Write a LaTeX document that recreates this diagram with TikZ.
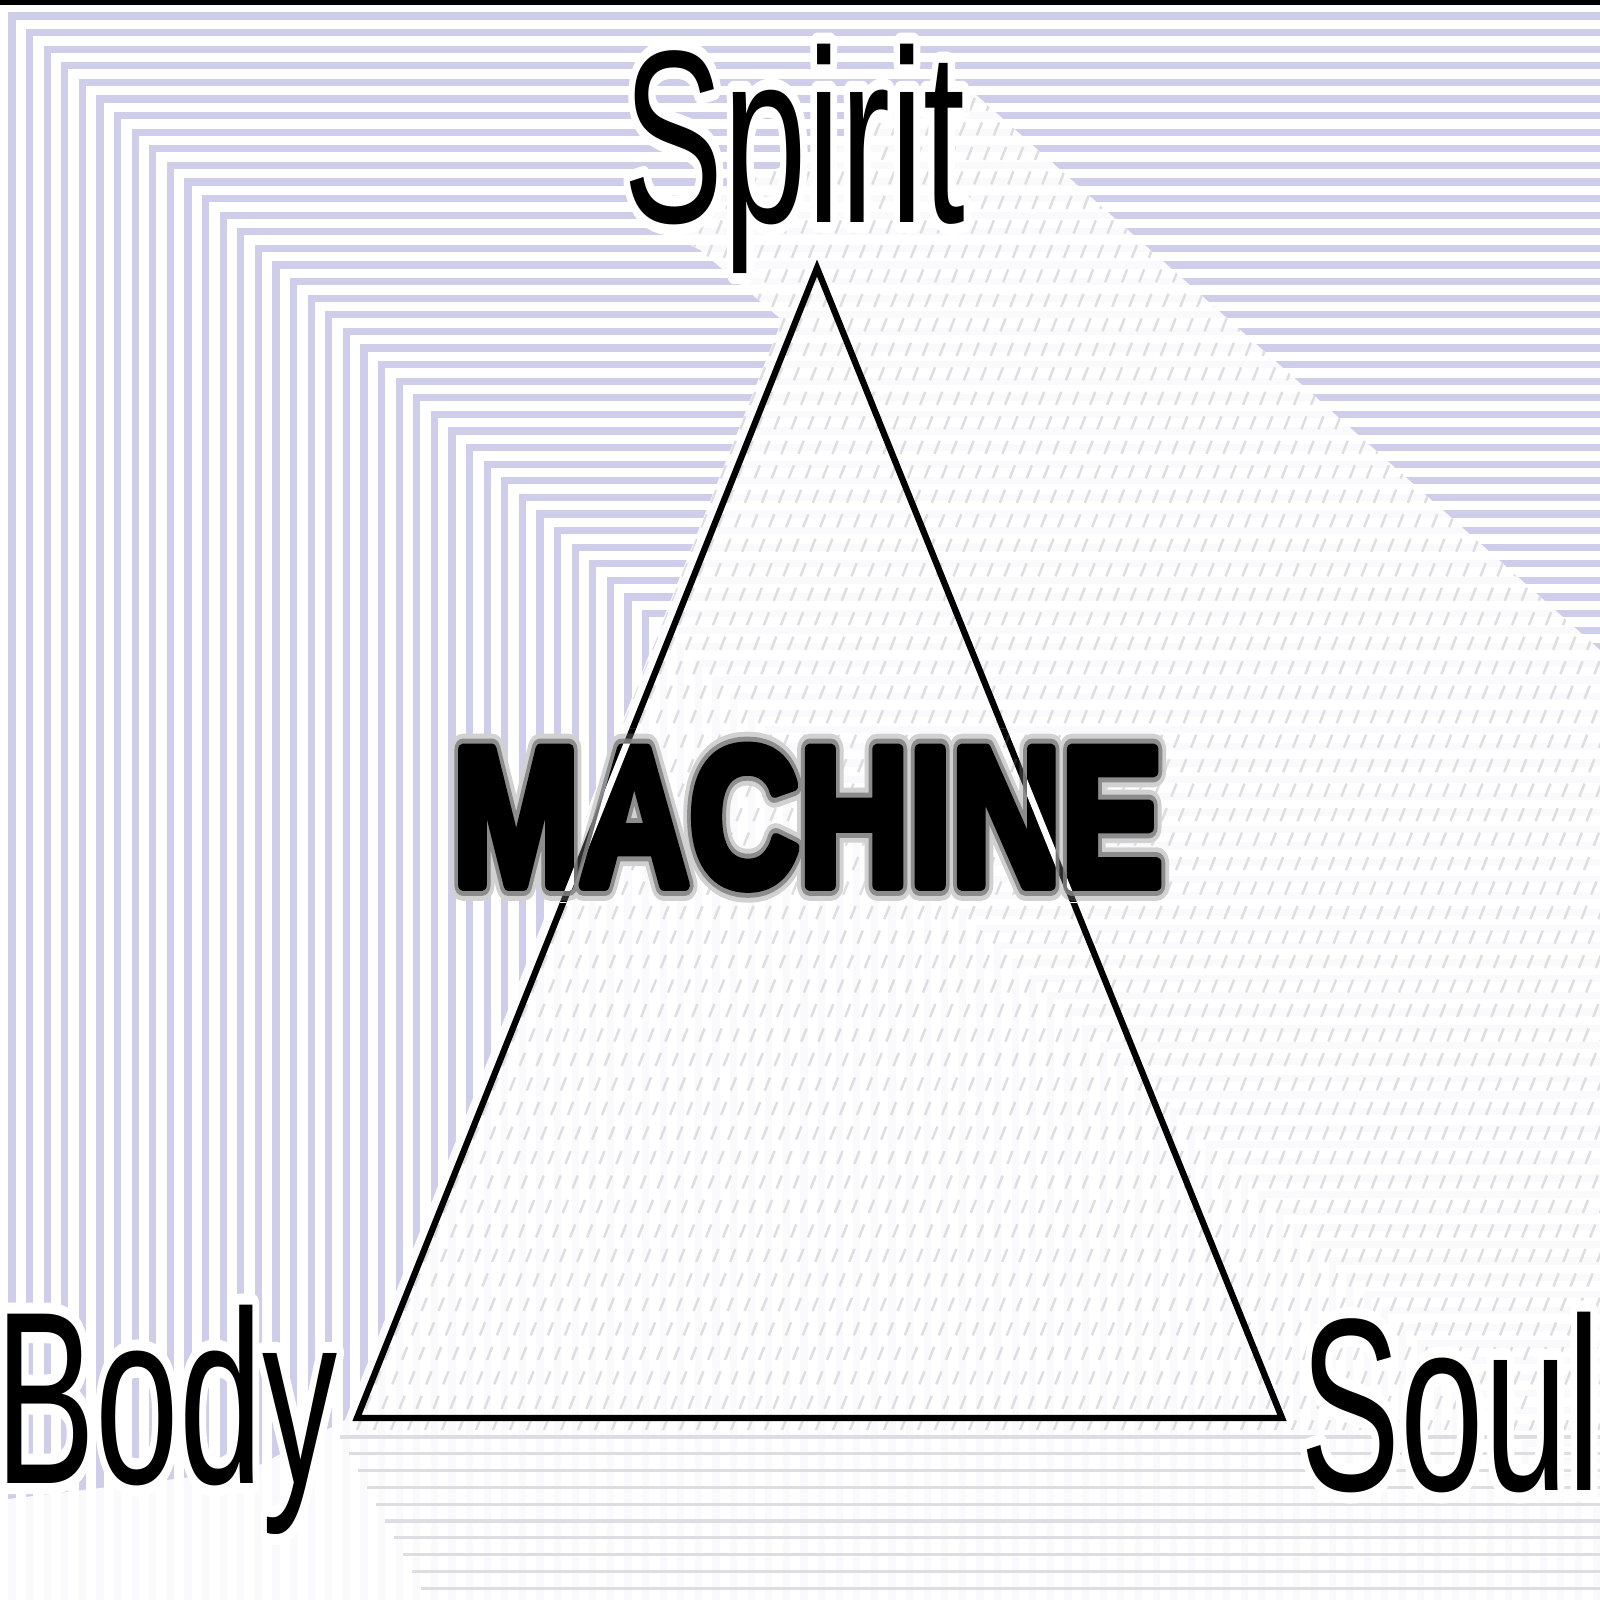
\documentclass[tikz,border=0pt]{standalone}
\usepackage{fontspec}
\setmainfont{Liberation Sans}
\newfontfamily\machcore{Liberation Sans}[BoldFeatures={FakeBold=6}]
\newfontfamily\machsoft{Liberation Sans}[BoldFeatures={FakeBold=11}]
\newfontfamily\machfuzz{Liberation Sans}[BoldFeatures={FakeBold=16}]
\newfontfamily\lblhalo{Liberation Sans}[FakeBold=9]
\begin{document}
\begin{tikzpicture}[x=0.01cm,y=-0.01cm,line join=round]
\definecolor{lav}{RGB}{206,206,234}
\definecolor{washgray}{RGB}{222,222,226}
\tikzset{
  lbl/.style={font=\fontsize{70}{80}\selectfont, inner sep=0pt, anchor=base west, xscale=0.61},
  lblh/.style={font=\lblhalo\fontsize{70}{80}\selectfont, inner sep=0pt, anchor=base west, xscale=0.61, white},
  mach/.style={inner sep=0pt, anchor=base west, xscale=0.773},
  edge/.style={line width=1.8pt}
}
\useasboundingbox (0,0) rectangle (1600,1600);
\fill[white] (0,0) rectangle (1600,1600);
% nested L-shaped stripes
\begin{scope}[line join=miter]
\clip (0,0) rectangle (1600,1600);
\foreach \k in {0,...,95} {
  \pgfmathsetmacro\cx{12+17.6*\k}
  \pgfmathsetmacro\cy{16+16.6*\k}
  \draw[lav, line width=2pt] (\cx,1650) -- (\cx,\cy) -- (1650,\cy);
}
\end{scope}
% top dark bar
\fill[black] (0,0) rectangle (1600,5);
% washed-out area
\path[fill=white, fill opacity=0.9] (650,225) -- (965,85) -- (1600,650) -- (1600,1600) -- (0,1600) -- (0,1500) -- (250,1470) -- (345,1420) -- (782,320) -- (700,250) -- cycle;
% faint texture inside the washed-out area
\begin{scope}
\clip (650,225) -- (965,85) -- (1600,650) -- (1600,1430) -- (345,1430) -- (782,320) -- (700,250) -- cycle;
\foreach \k in {0,...,150} {
  \pgfmathsetmacro\sx{300+17*\k}
  \draw[washgray, line width=0.7pt, dash pattern=on 4pt off 3.5pt] (\sx,0) -- ++(-680,1700);
}
\end{scope}
% faint horizontal lines below the base
\begin{scope}
\clip (0,1430) rectangle (1600,1600);
\foreach \j in {0,...,10} {
  \pgfmathsetmacro\yy{1437+16.8*\j}
  \pgfmathsetmacro\xx{340+9*\j}
  \draw[washgray, line width=0.9pt] (\xx,\yy) -- (1600,\yy);
}
\end{scope}
% triangle corners
\coordinate (A) at (817,268);
\coordinate (B) at (357,1418);
\coordinate (C) at (1282,1418);
% triangle outside the MACHINE band
\begin{scope}
\clip (0,0) rectangle (1600,728) (0,902) rectangle (1600,1600);
\draw[edge, line join=miter] (A) -- (B) -- (C) -- cycle;
\end{scope}
% labels with white halo
\node[lblh] (spiritH) at (623,222) {Spirit};
\node[lblh] (bodyH) at (-5,1483) {Body};
\node[lblh] (soulH) at (1300,1490) {Soul};
\node[lbl] (spirit) at (623,222) {Spirit};
\node[lbl] (body) at (-5,1483) {Body};
\node[lbl] (soul) at (1300,1490) {Soul};
% MACHINE: soft halftone-like halo, then heavy letters
\node[mach, black!18, font=\machfuzz\bfseries\fontsize{56}{64}\selectfont] (machF) at (452,885) {MACHINE};
\node[mach, black!45, font=\machsoft\bfseries\fontsize{56}{64}\selectfont] (machS) at (452,885) {MACHINE};
\node[mach, black, font=\machcore\bfseries\fontsize{56}{64}\selectfont] (mach) at (452,885) {MACHINE};
% triangle edges through the MACHINE band (inverted over the letters)
\begin{scope}[blend mode=difference]
\clip (0,728) rectangle (1600,902);
\draw[edge, white] (A) -- (B) (A) -- (C);
\end{scope}
\end{tikzpicture}
\end{document}
